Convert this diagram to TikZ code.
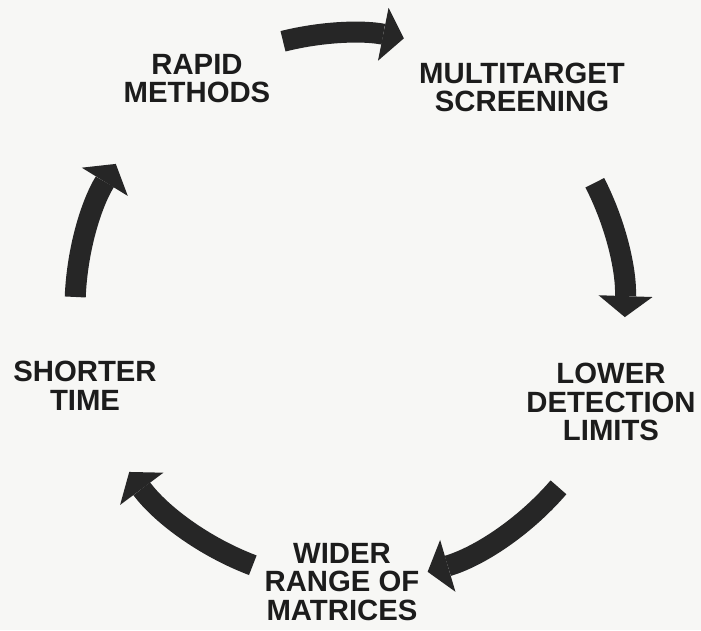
\documentclass[tikz,border=0pt]{standalone}
\usepackage{fontspec}
\setmainfont{Liberation Sans}
\usetikzlibrary{arrows.meta}

\definecolor{paper}{RGB}{247,247,245}
\definecolor{ink}{RGB}{28,28,28}
\definecolor{arrowink}{RGB}{38,38,38}

\begin{document}
\begin{tikzpicture}[x=1pt, y=1pt,
    stage/.style={align=center, inner sep=0pt, text=ink,
        font=\fontsize{29.3}{28.5}\selectfont\bfseries},
    cycarrow/.style={draw=arrowink, line width=21pt, looseness=.87,
        -{Triangle[length=21pt, width=54pt, line width=0pt]}}]
    % page
    \fill[paper] (-350,-322) rectangle (351,308);

    % the five stages round the cycle
    \node [stage] (rapid) at (-153,229.5) {RAPID\\METHODS};
    \node [stage] (multi) at (172,220.5) {MULTITARGET\\SCREENING};
    \node [stage] (lower) at (261,-94) {LOWER\\DETECTION\\LIMITS};
    \node [stage] (wider) at (-8,-274) {WIDER\\RANGE OF\\MATRICES};
    \node [stage] (shorter) at (-265,-78) {SHORTER\\TIME};

    % arrow ends on a circle of radius 275
    \coordinate (t1) at (104.1:275); \coordinate (h1) at (78.7:275);
    \coordinate (t2) at (27.1:275);  \coordinate (h2) at (-1.9:275);
    \coordinate (t3) at (-40.7:275); \coordinate (h3) at (-73.6:275);
    \coordinate (t4) at (249.3:275); \coordinate (h4) at (216.6:275);
    \coordinate (t5) at (177.7:275); \coordinate (h5) at (148.4:275);

    \draw [cycarrow] (t1) to[bend left=12.7] (h1);
    \draw [cycarrow] (t2) to[bend left=14.5] (h2);
    \draw [cycarrow] (t3) to[bend left=16.4] (h3);
    \draw [cycarrow] (t4) to[bend left=16.3] (h4);
    \draw [cycarrow] (t5) to[bend left=14.6] (h5);
\end{tikzpicture}
\end{document}
